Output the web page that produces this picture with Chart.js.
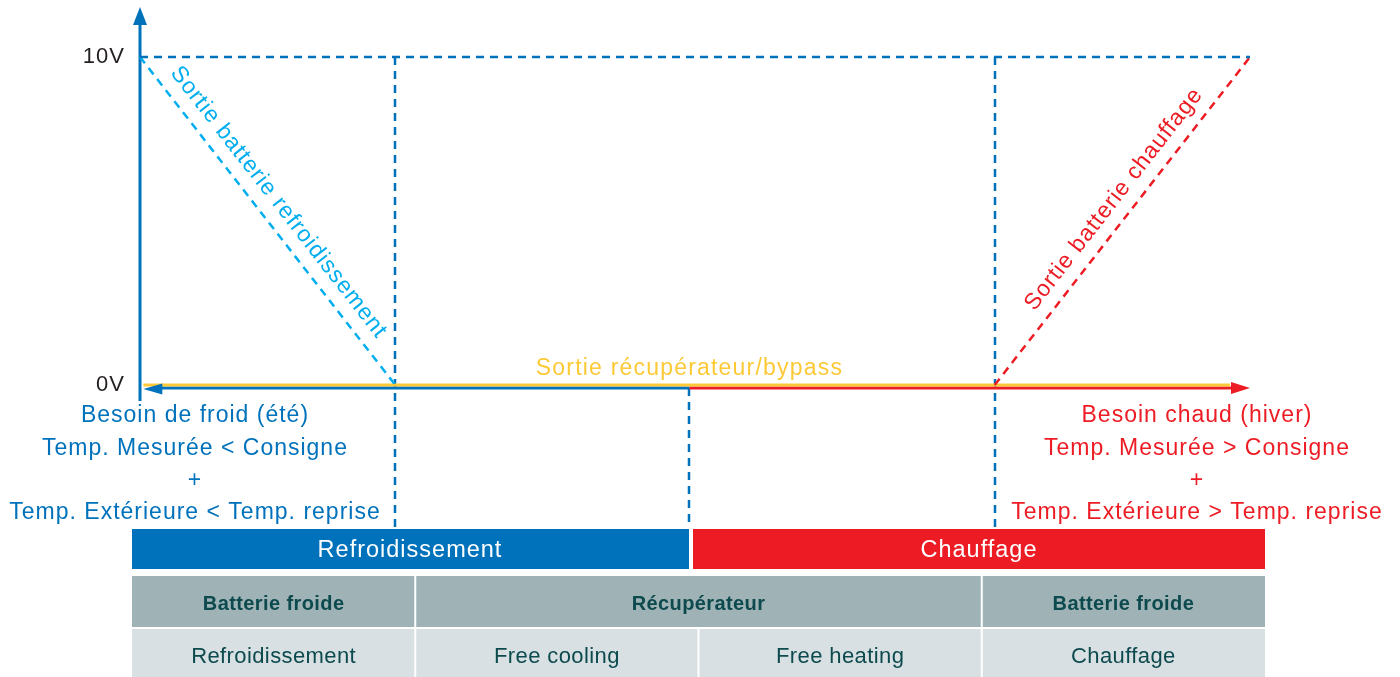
<!DOCTYPE html>
<html>
<head>
<meta charset="utf-8">
<script src="https://cdn.jsdelivr.net/npm/chart.js@4"></script>
<style>
  body { margin: 0; background: #fff; }
  #wrap { width: 1400px; height: 677px; }
</style>
</head>
<body>
<div id="wrap"><canvas id="chart" width="1400" height="677"></canvas></div>
<script>
// demand axis runs 0..100 (cold need on the left, heat need on the right)
const voltTicks = [0, 10];
const voltLabels = ["0V", "10V"];
const coolingX = [0, 23];
const coolingV = [10, 0];
const heatingX = [77, 100];
const heatingV = [0, 10];
const bypassX = [0.3, 98.2];
const bypassV = [0, 0];
const maxX = [0, 100];
const maxV = [10, 10];
const switchX = 49.5;
const coolArrowX = [switchX, 0.3];
const heatArrowX = [switchX, 100];

const coldText = ["Besoin de froid (été)", "Temp. Mesurée < Consigne", "+", "Temp. Extérieure < Temp. reprise"];
const hotText = ["Besoin chaud (hiver)", "Temp. Mesurée > Consigne", "+", "Temp. Extérieure > Temp. reprise"];
const modeLabels = ["Refroidissement", "Chauffage"];
const tableHead = ["Batterie froide", "Récupérateur", "Batterie froide"];
const tableRow = ["Refroidissement", "Free cooling", "Free heating", "Chauffage"];

const BLUE = "#0072bc";
const LIGHT = "#00aeef";
const RED = "#ed1c24";
const YELLOW = "#fdc937";
const FONT = "'Liberation Sans', Arial, sans-serif";

function pts(xs, ys) {
  return xs.map((x, i) => ({ x: x, y: ys[i] }));
}

function arrowHead(ctx, tipX, tipY, dx, dy, len, half) {
  // dx, dy unit direction of travel
  ctx.beginPath();
  ctx.moveTo(tipX, tipY);
  ctx.lineTo(tipX - dx * len - dy * half, tipY - dy * len + dx * half);
  ctx.lineTo(tipX - dx * len + dy * half, tipY - dy * len - dx * half);
  ctx.closePath();
  ctx.fill();
}

// label drawn along segment a->b, shifted to the left-hand side of travel
function slopeLabel(ctx, text, a, b, t, along, off, color) {
  const dx = b.x - a.x, dy = b.y - a.y;
  const len = Math.hypot(dx, dy);
  const ux = dx / len, uy = dy / len;
  const nx = uy, ny = -ux;
  const cx = a.x + dx * t + ux * along + nx * off;
  const cy = a.y + dy * t + uy * along + ny * off;
  ctx.save();
  ctx.translate(cx, cy);
  ctx.rotate(Math.atan2(dy, dx));
  ctx.fillStyle = color;
  ctx.font = "23px " + FONT;
  ctx.textAlign = "center";
  ctx.textBaseline = "middle";
  ctx.fillText(text, 0, 0);
  ctx.restore();
}

const diagram = {
  id: "diagram",
  beforeDraw(chart) {
    chart.ctx.letterSpacing = "1px";
  },
  beforeDatasetsDraw(chart) {
    const ctx = chart.ctx;
    const xs = chart.scales.x, ys = chart.scales.y;
    const y0 = ys.getPixelForValue(0);
    const y10 = ys.getPixelForValue(10);
    const bandTop = 528;

    // dashed thresholds down to the mode band
    ctx.save();
    ctx.strokeStyle = BLUE;
    ctx.lineWidth = 2.5;
    ctx.setLineDash([8, 6]);
    [coolingX[1], heatingX[0]].forEach(v => {
      const px = Math.round(xs.getPixelForValue(v));
      ctx.beginPath();
      ctx.moveTo(px, y10);
      ctx.lineTo(px, bandTop);
      ctx.stroke();
    });
    const sx = Math.round(xs.getPixelForValue(switchX));
    ctx.beginPath();
    ctx.moveTo(sx, y0 + 3);
    ctx.lineTo(sx, bandTop);
    ctx.stroke();
    ctx.restore();

    // vertical axis with arrow
    const ax = xs.getPixelForValue(0);
    ctx.save();
    ctx.strokeStyle = BLUE;
    ctx.fillStyle = BLUE;
    ctx.lineWidth = 3;
    ctx.beginPath();
    ctx.moveTo(ax, y0 + 16);
    ctx.lineTo(ax, 22);
    ctx.stroke();
    arrowHead(ctx, ax, 7, 0, -1, 18, 7);

    // zone lines on 0V
    const ay = y0 + 3;
    ctx.beginPath();
    ctx.moveTo(xs.getPixelForValue(coolArrowX[0]), ay);
    ctx.lineTo(xs.getPixelForValue(coolArrowX[1]) + 15, ay);
    ctx.stroke();
    ctx.strokeStyle = RED;
    ctx.beginPath();
    ctx.moveTo(xs.getPixelForValue(heatArrowX[0]), ay);
    ctx.lineTo(xs.getPixelForValue(heatArrowX[1]) - 15, ay);
    ctx.stroke();
    ctx.restore();
  },
  afterDatasetsDraw(chart) {
    const ctx = chart.ctx;
    const xs = chart.scales.x, ys = chart.scales.y;
    const P = (x, v) => ({ x: xs.getPixelForValue(x), y: ys.getPixelForValue(v) });
    const ay = ys.getPixelForValue(0) + 3;

    ctx.save();
    ctx.fillStyle = BLUE;
    arrowHead(ctx, xs.getPixelForValue(coolArrowX[1]), ay + 1, -1, 0, 19, 5.5);
    ctx.fillStyle = RED;
    arrowHead(ctx, xs.getPixelForValue(heatArrowX[1]), ay, 1, 0, 19, 6);
    ctx.restore();

    // slope labels
    slopeLabel(ctx, "Sortie batterie refroidissement", P(coolingX[0], coolingV[0]), P(coolingX[1], coolingV[1]), 0.5, -8, 20, LIGHT);
    slopeLabel(ctx, "Sortie batterie chauffage", P(heatingX[0], heatingV[0]), P(heatingX[1], heatingV[1]), 0.5, 12, 20, RED);

    ctx.save();
    ctx.textAlign = "center";
    ctx.textBaseline = "middle";
    ctx.font = "23px " + FONT;
    ctx.letterSpacing = "1.2px";
    ctx.fillStyle = YELLOW;
    ctx.fillText("Sortie récupérateur/bypass", xs.getPixelForValue(switchX), 369);
    ctx.letterSpacing = "1px";

    ctx.font = "23px " + FONT;
    ctx.fillStyle = BLUE;
    coldText.forEach((t, i) => ctx.fillText(t, 195, 416 + i * 32.3));
    ctx.fillStyle = RED;
    hotText.forEach((t, i) => ctx.fillText(t, 1197, 416 + i * 32.3));

    // mode bands
    ctx.fillStyle = BLUE;
    ctx.fillRect(132, 529, 557, 40);
    ctx.fillStyle = RED;
    ctx.fillRect(693, 529, 572, 40);
    ctx.fillStyle = "#fff";
    ctx.font = "23.5px " + FONT;
    ctx.fillText(modeLabels[0], 410, 551);
    ctx.fillText(modeLabels[1], 979, 551);

    // table
    const tl = 132, tr = 1265, cw = (tr - tl) / 4;
    ctx.fillStyle = "#9fb2b6";
    ctx.fillRect(tl, 576, tr - tl, 51);
    ctx.fillStyle = "#d8e0e3";
    ctx.fillRect(tl, 629, tr - tl, 48);
    ctx.fillStyle = "#fff";
    [1, 3].forEach(k => ctx.fillRect(tl + k * cw - 1, 576, 2, 101));
    ctx.fillRect(tl + 2 * cw - 1, 629, 2, 48);
    ctx.fillStyle = "#0d4a4d";
    ctx.letterSpacing = "0.4px";
    ctx.font = "bold 20px " + FONT;
    ctx.fillText(tableHead[0], tl + cw / 2, 604);
    ctx.fillText(tableHead[1], tl + 2 * cw, 604);
    ctx.fillText(tableHead[2], tl + 3.5 * cw, 604);
    ctx.font = "22px " + FONT;
    tableRow.forEach((t, i) => ctx.fillText(t, tl + (i + 0.5) * cw, 657));
    ctx.restore();
  }
};

new Chart(document.getElementById("chart"), {
  type: "line",
  data: {
    datasets: [
      { data: pts(maxX, maxV), borderColor: BLUE, borderWidth: 2.5, borderDash: [8, 6] },
      { data: pts(coolingX, coolingV), borderColor: LIGHT, borderWidth: 2.5, borderDash: [8, 6] },
      { data: pts(heatingX, heatingV), borderColor: RED, borderWidth: 2.5, borderDash: [8, 6] },
      { data: pts(bypassX, bypassV), borderColor: YELLOW, borderWidth: 3 }
    ]
  },
  options: {
    responsive: false,
    animation: false,
    devicePixelRatio: 1,
    clip: false,
    layout: { padding: { top: 57, right: 150, bottom: 292, left: 0 } },
    elements: { point: { radius: 0 }, line: { tension: 0 } },
    plugins: { legend: { display: false }, tooltip: { enabled: false } },
    scales: {
      x: { type: "linear", min: 0, max: 100, display: false },
      y: {
        min: 0, max: 10,
        grid: { display: false },
        border: { display: false },
        afterBuildTicks: s => { s.ticks = voltTicks.map(v => ({ value: v })); },
        afterFit: s => { s.width = 140; },
        ticks: {
          padding: 7,
          color: "#231f20",
          font: { size: 22, family: FONT },
          callback: v => voltLabels[voltTicks.indexOf(v)]
        }
      }
    }
  },
  plugins: [diagram]
});
</script>
</body>
</html>
